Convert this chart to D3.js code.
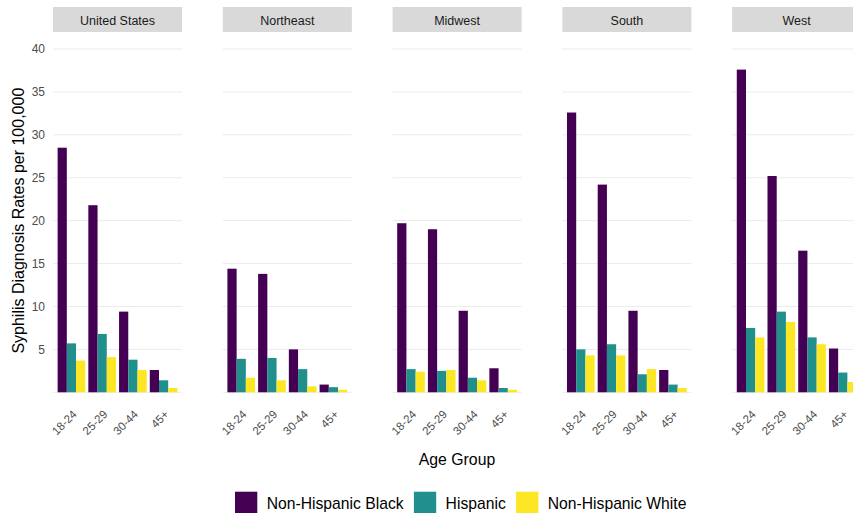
<!DOCTYPE html>
<html>
<head>
<meta charset="utf-8">
<script src="https://cdn.jsdelivr.net/npm/d3@7"></script>
<style>
  html, body { margin: 0; padding: 0; background: #ffffff; }
  svg { display: block; font-family: "Liberation Sans", Arial, sans-serif; }
</style>
</head>
<body>
<svg id="chart" width="853" height="513"></svg>
<script>
// Regions (facets), age groups and race/ethnicity groups
const regions = ["United States", "Northeast", "Midwest", "South", "West"];
const ageGroups = ["18-24", "25-29", "30-44", "45+"];
const groups = ["Non-Hispanic Black", "Hispanic", "Non-Hispanic White"];
const groupColors = ["#440154", "#21908C", "#FDE725"];
const yTicks = [5, 10, 15, 20, 25, 30, 35, 40];

// Rates per 100,000, one array per region, ordered by age group
const blackRates = {
  "United States": [28.5, 21.8, 9.4, 2.6],
  "Northeast": [14.4, 13.8, 5.0, 0.9],
  "Midwest": [19.7, 19.0, 9.5, 2.8],
  "South": [32.6, 24.2, 9.5, 2.6],
  "West": [37.6, 25.2, 16.5, 5.1]
};
const hispanicRates = {
  "United States": [5.7, 6.8, 3.8, 1.4],
  "Northeast": [3.9, 4.0, 2.7, 0.6],
  "Midwest": [2.7, 2.5, 1.7, 0.5],
  "South": [5.0, 5.6, 2.1, 0.9],
  "West": [7.5, 9.4, 6.4, 2.3]
};
const whiteRates = {
  "United States": [3.7, 4.1, 2.6, 0.5],
  "Northeast": [1.7, 1.4, 0.7, 0.3],
  "Midwest": [2.4, 2.6, 1.4, 0.3],
  "South": [4.3, 4.3, 2.7, 0.5],
  "West": [6.4, 8.2, 5.6, 1.2]
};
const ratesByGroup = [blackRates, hispanicRates, whiteRates];

const svg = d3.select("#chart");

// Facet placement
const panelTop = 49, panelBottom = 392.3;
const facetX = d3.scaleBand().domain(regions).range([53, 861.2]).paddingInner(0.24);
const panelW = facetX.bandwidth();

const y = d3.scaleLinear().domain([0, 40]).range([panelBottom, panelTop]);
const x = d3.scaleBand().domain(ageGroups).range([0, panelW]).paddingInner(0).paddingOuter(0.1);
const xSub = d3.scaleBand().domain(groups).range([0, x.bandwidth()]).paddingInner(0).paddingOuter(1 / 6);
const color = d3.scaleOrdinal().domain(groups).range(groupColors);

const textGray = "#4d4d4d";

regions.forEach(region => {
  const g = svg.append("g").attr("transform", `translate(${facetX(region)},0)`);

  // horizontal grid lines
  g.selectAll("line.grid")
    .data([0].concat(yTicks))
    .join("line")
    .attr("x1", 0).attr("x2", panelW)
    .attr("y1", d => y(d)).attr("y2", d => y(d))
    .attr("stroke", "#ebebeb").attr("stroke-width", 1);

  // strip header
  g.append("rect")
    .attr("x", 0).attr("y", 7).attr("width", panelW).attr("height", 25)
    .attr("fill", "#d9d9d9");
  g.append("text")
    .attr("x", panelW / 2).attr("y", 24.5)
    .attr("text-anchor", "middle")
    .attr("font-size", 12.5).attr("fill", "#1a1a1a")
    .text(region);

  // dodged bars
  const rows = [];
  ageGroups.forEach((age, i) => {
    groups.forEach((grp, k) => {
      rows.push({ age, grp, value: ratesByGroup[k][region][i] });
    });
  });
  g.selectAll("rect.bar")
    .data(rows)
    .join("rect")
    .attr("class", "bar")
    .attr("x", d => x(d.age) + xSub(d.grp))
    .attr("width", xSub.bandwidth())
    .attr("y", d => y(d.value))
    .attr("height", d => y(0) - y(d.value))
    .attr("fill", d => color(d.grp));

  // rotated age-group labels
  g.selectAll("text.tick")
    .data(ageGroups)
    .join("text")
    .attr("class", "tick")
    .attr("transform", d => `translate(${x(d) + x.bandwidth() / 2 + 6},415) rotate(-45)`)
    .attr("text-anchor", "end")
    .attr("font-size", 11.5).attr("fill", textGray)
    .text(d => d);
});

// y axis tick labels on the first facet only
const yAxis = d3.axisLeft(y).tickValues(yTicks).tickSize(0).tickPadding(8);
const yg = svg.append("g").attr("transform", `translate(${facetX(regions[0])},0)`).call(yAxis);
yg.select(".domain").remove();
yg.selectAll("text").attr("font-size", 12).attr("fill", textGray)
  .attr("font-family", "\"Liberation Sans\", Arial, sans-serif");

// axis titles
svg.append("text")
  .attr("transform", `translate(23.5,${(panelTop + panelBottom) / 2}) rotate(-90)`)
  .attr("text-anchor", "middle")
  .attr("font-size", 16).attr("fill", "#000")
  .text("Syphilis Diagnosis Rates per 100,000");

svg.append("text")
  .attr("x", 457).attr("y", 465)
  .attr("text-anchor", "middle")
  .attr("font-size", 15.8).attr("fill", "#000")
  .text("Age Group");

// legend
const legend = svg.append("g");
let lx = 235;
groups.forEach(grp => {
  legend.append("rect")
    .attr("x", lx).attr("y", 491.7).attr("width", 22.3).attr("height", 22.3)
    .attr("fill", color(grp));
  const t = legend.append("text")
    .attr("x", lx + 31.7).attr("y", 509)
    .attr("font-size", 15.7).attr("fill", "#000")
    .text(grp);
  lx += 31.7 + t.node().getComputedTextLength() + 10.3;
});
</script>
</body>
</html>
